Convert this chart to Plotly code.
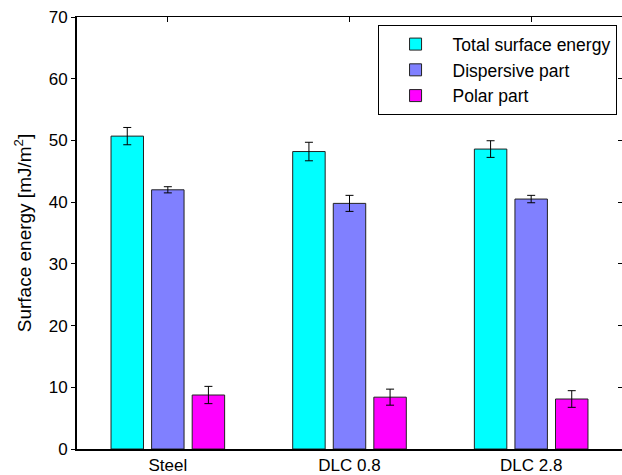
import plotly.graph_objects as go

categories = ["Steel", "DLC 0.8", "DLC 2.8"]
total = [50.7, 48.2, 48.6]
total_err = [1.4, 1.5, 1.35]
dispersive = [42.0, 39.8, 40.5]
dispersive_err = [0.5, 1.3, 0.6]
polar = [8.75, 8.4, 8.1]
polar_err = [1.4, 1.3, 1.35]
y_ticks = [0, 10, 20, 30, 40, 50, 60, 70]

series = [
    ("Total surface energy", total, total_err, "#00FFFF"),
    ("Dispersive part", dispersive, dispersive_err, "#8080FF"),
    ("Polar part", polar, polar_err, "#FF00FF"),
]

xpos = [1, 2, 3]
fig = go.Figure()
for name, vals, errs, col in series:
    fig.add_trace(go.Bar(
        x=xpos, y=vals, name=name,
        marker=dict(color=col, line=dict(color="#222222", width=1)),
        error_y=dict(type="data", array=errs, color="black", thickness=1, width=4),
    ))

# helper trace for top/right mirror axes
fig.add_trace(go.Scatter(x=[1], y=[0], xaxis="x2", yaxis="y2", mode="markers",
                         marker=dict(opacity=0), showlegend=False, hoverinfo="skip"))

font_family = "Liberation Sans, Arial, sans-serif"
fig.update_layout(
    width=622, height=475,
    margin=dict(l=77, r=0, t=17, b=26, autoexpand=False),
    paper_bgcolor="white", plot_bgcolor="white",
    barmode="group", bargap=0.33, bargroupgap=0.2,
    font=dict(family=font_family, color="black", size=17),
    xaxis=dict(
        range=[0.5, 3.5], tickvals=xpos, ticktext=categories,
        showline=True, linecolor="black", linewidth=2, ticks="",
        showgrid=False, zeroline=False, tickfont=dict(size=17),
    ),
    xaxis2=dict(
        range=[0.5, 3.5], overlaying="x", side="top", tickvals=xpos,
        showticklabels=False, ticks="inside", ticklen=5, tickcolor="black",
        showline=True, linecolor="black", linewidth=1, showgrid=False, zeroline=False,
    ),
    yaxis=dict(
        range=[0, 70], tickvals=y_ticks,
        showline=True, linecolor="black", linewidth=2,
        ticks="outside", ticklen=4, tickcolor="black",
        showgrid=False, zeroline=False, tickfont=dict(size=17),
        title=dict(text="Surface energy [mJ/m<sup>2</sup>]", font=dict(size=19), standoff=12),
    ),
    yaxis2=dict(
        range=[0, 70], overlaying="y", side="right", tickvals=y_ticks,
        showticklabels=False, ticks="inside", ticklen=4, tickcolor="black",
        showline=False, showgrid=False, zeroline=False,
    ),
    legend=dict(
        x=0.99, y=0.981, xanchor="right", yanchor="top",
        bgcolor="white", bordercolor="black", borderwidth=1,
        font=dict(size=17.5), itemwidth=64, tracegroupgap=0,
    ),
    showlegend=True,
)

fig.write_html("out.html", config={"displayModeBar": False},
               post_script="document.body.style.margin='0';")
